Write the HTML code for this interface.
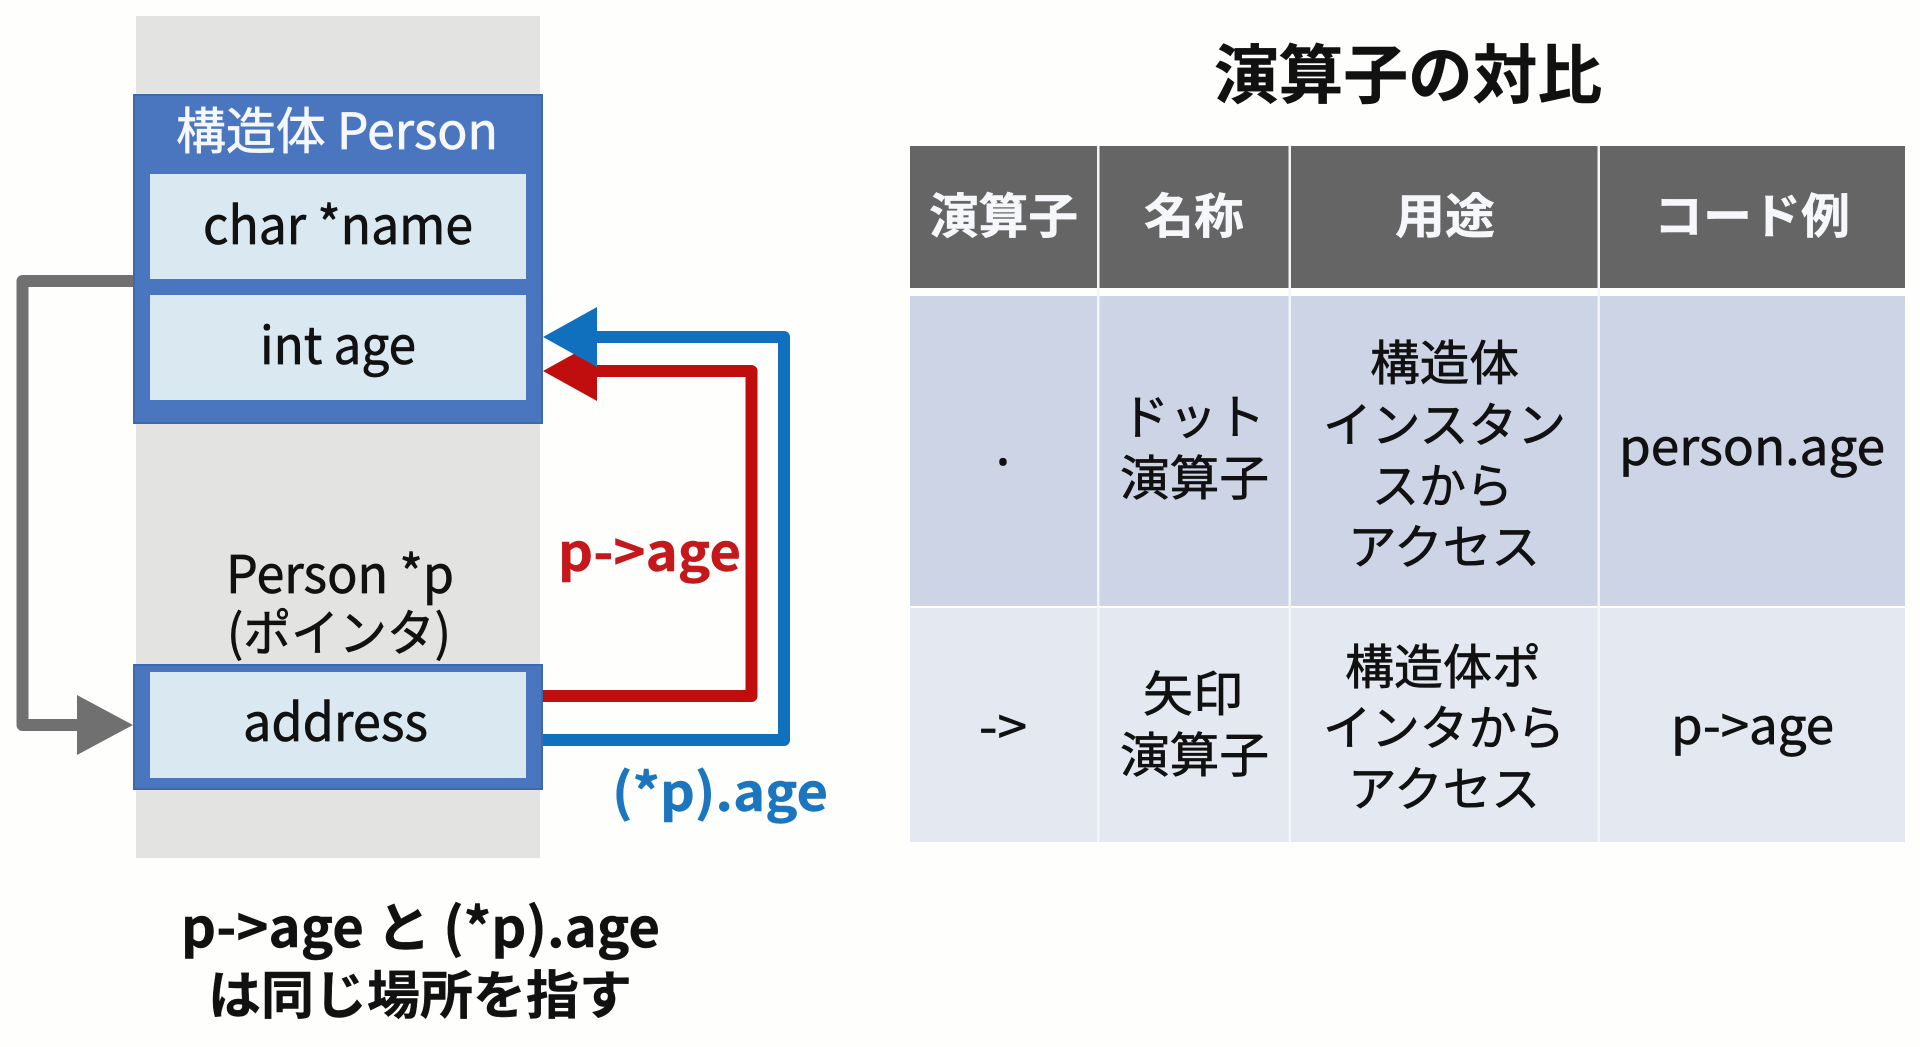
<!DOCTYPE html>
<html lang="ja"><head><meta charset="utf-8"><title>演算子の対比</title>
<style>
html,body{margin:0;padding:0;background:#fefefd;width:1920px;height:1047px;overflow:hidden}
svg{display:block}
text{font-family:"Noto Sans CJK JP","Liberation Sans",sans-serif;fill:#111;stroke:#111;stroke-width:.7px}
.b{font-weight:700;stroke-width:.4px}
.w{fill:#f6f7fa;stroke:#f6f7fa}
</style></head><body>
<svg width="1920" height="1047" viewBox="0 0 1920 1047" xmlns="http://www.w3.org/2000/svg">
<rect width="1920" height="1047" fill="#fefefd"/>
<rect x="136" y="16" width="404" height="842" fill="#e3e3e1"/>

<!-- gray arrow -->
<path d="M133 281H22.500V725H80" fill="none" stroke="#707070" stroke-width="12" stroke-linejoin="round"/>
<polygon points="77,695 133,725 77,755" fill="#707070"/>

<!-- struct -->
<rect x="134" y="95" width="408" height="328" fill="#4a76c0" stroke="#3f68ad" stroke-width="2"/>
<rect x="150" y="174" width="376" height="105" fill="#dae8f2"/>
<rect x="150" y="295" width="376" height="105" fill="#dae8f2"/>
<text class="w" x="176" y="149" font-size="50" textLength="322" lengthAdjust="spacingAndGlyphs">構造体 Person</text>
<text x="203" y="244" font-size="52" textLength="270" lengthAdjust="spacingAndGlyphs">char *name</text>
<text x="260" y="364" font-size="52" textLength="156" lengthAdjust="spacingAndGlyphs">int age</text>

<!-- pointer -->
<text x="226" y="593" font-size="52" textLength="228" lengthAdjust="spacingAndGlyphs">Person *p</text>
<text x="227" y="651" font-size="50" textLength="224" lengthAdjust="spacingAndGlyphs">(ポインタ)</text>
<rect x="134" y="665" width="408" height="124" fill="#4a76c0" stroke="#3f68ad" stroke-width="2"/>
<rect x="150" y="672" width="376" height="106" fill="#dae8f2"/>
<text x="243" y="741" font-size="52" textLength="185" lengthAdjust="spacingAndGlyphs">address</text>

<!-- red arrow -->
<path d="M543 696H751.500V371H590" fill="none" stroke="#c00d0d" stroke-width="12" stroke-linejoin="round"/>
<polygon points="543,371 597,341 597,401" fill="#c00d0d"/>
<!-- blue arrow -->
<path d="M543 740H784V337H590" fill="none" stroke="#1070bd" stroke-width="12" stroke-linejoin="round"/>
<polygon points="543,337 597,307 597,367" fill="#1070bd"/>

<text class="b" x="558" y="571" font-size="52" textLength="183" lengthAdjust="spacingAndGlyphs" style="fill:#c4181c;stroke:#c4181c">p-&gt;age</text>
<text class="b" x="612" y="811" font-size="52" textLength="216" lengthAdjust="spacingAndGlyphs" style="fill:#1c76bd;stroke:#1c76bd">(*p).age</text>

<text class="b" x="181" y="947" font-size="54" textLength="479" lengthAdjust="spacingAndGlyphs">p-&gt;age と (*p).age</text>
<text class="b" x="208" y="1014" font-size="52" textLength="424" lengthAdjust="spacingAndGlyphs">は同じ場所を指す</text>

<!-- title -->
<text class="b" x="1214" y="98" font-size="64" textLength="388" lengthAdjust="spacingAndGlyphs">演算子の対比</text>

<!-- table -->
<rect x="910" y="146" width="995" height="142" fill="#656565"/>
<rect x="910" y="296" width="995" height="310" fill="#ccd4e6"/>
<rect x="910" y="608" width="995" height="234" fill="#e4e8f1"/>
<g fill="#f4f5f8">
<rect x="1097" y="146" width="2.500" height="696"/>
<rect x="1288.500" y="146" width="2.500" height="696"/>
<rect x="1597.500" y="146" width="2.500" height="696"/>
</g>

<text class="w b" x="929" y="233" font-size="48" textLength="149" lengthAdjust="spacingAndGlyphs">演算子</text>
<text class="w b" x="1144" y="233" font-size="48" textLength="100" lengthAdjust="spacingAndGlyphs">名称</text>
<text class="w b" x="1395" y="233" font-size="48" textLength="100" lengthAdjust="spacingAndGlyphs">用途</text>
<text class="w b" x="1654" y="233" font-size="48" textLength="196" lengthAdjust="spacingAndGlyphs">コード例</text>

<text x="1003" y="465" font-size="52" text-anchor="middle">.</text>
<text x="1121" y="434" font-size="48" textLength="144" lengthAdjust="spacingAndGlyphs">ドット</text>
<text x="1120" y="495" font-size="48" textLength="149" lengthAdjust="spacingAndGlyphs">演算子</text>
<text x="1370" y="380" font-size="48" textLength="149" lengthAdjust="spacingAndGlyphs">構造体</text>
<text x="1323" y="442" font-size="48" textLength="243" lengthAdjust="spacingAndGlyphs">インスタン</text>
<text x="1372" y="503" font-size="48" textLength="141" lengthAdjust="spacingAndGlyphs">スから</text>
<text x="1348" y="564" font-size="48" textLength="192" lengthAdjust="spacingAndGlyphs">アクセス</text>
<text x="1619" y="465" font-size="50" textLength="266" lengthAdjust="spacingAndGlyphs">person.age</text>

<text x="979" y="745" font-size="50" textLength="48" lengthAdjust="spacingAndGlyphs">-&gt;</text>
<text x="1143" y="711" font-size="48" textLength="100" lengthAdjust="spacingAndGlyphs">矢印</text>
<text x="1120" y="772" font-size="48" textLength="149" lengthAdjust="spacingAndGlyphs">演算子</text>
<text x="1345" y="684" font-size="48" textLength="196" lengthAdjust="spacingAndGlyphs">構造体ポ</text>
<text x="1323" y="745" font-size="48" textLength="242" lengthAdjust="spacingAndGlyphs">インタから</text>
<text x="1348" y="806" font-size="48" textLength="192" lengthAdjust="spacingAndGlyphs">アクセス</text>
<text x="1671" y="744" font-size="50" textLength="163" lengthAdjust="spacingAndGlyphs">p-&gt;age</text>
</svg>
</body></html>
